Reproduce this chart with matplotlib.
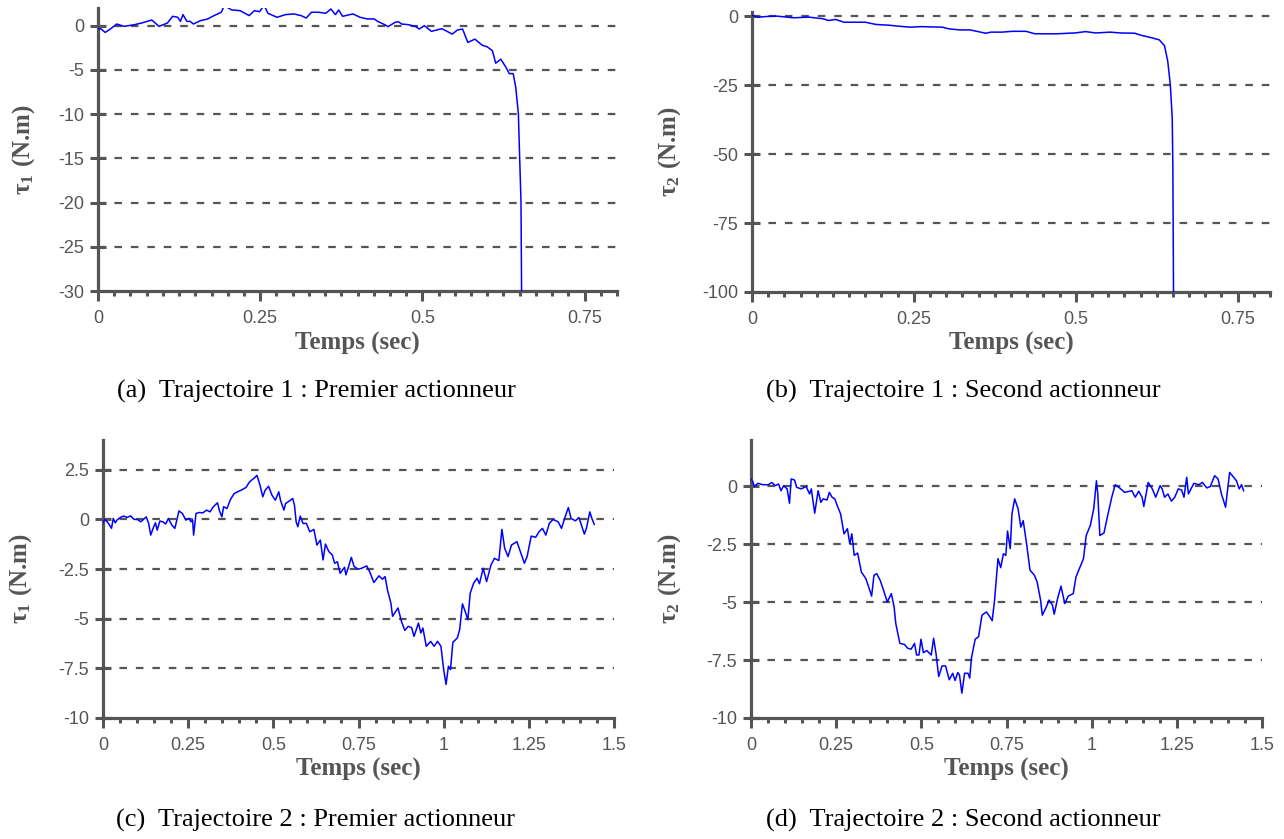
import numpy as np
import matplotlib.pyplot as plt
from matplotlib.ticker import MultipleLocator, FixedLocator, FuncFormatter

plt.rcParams['axes.unicode_minus'] = False
plt.rcParams['mathtext.fontset'] = 'stix'
plt.rcParams['font.family'] = 'Liberation Sans'

GRIS = '#555555'
BLEU = '#0000ff'

# Trajectoire 1, premier actionneur (tau_1)
t_a = [0.000, 0.005, 0.011, 0.019, 0.029, 0.040, 0.056, 0.067, 0.083, 0.094,
       0.107, 0.115, 0.123, 0.127, 0.131, 0.137, 0.142, 0.147, 0.158, 0.169,
       0.179, 0.190, 0.193, 0.195, 0.201, 0.206, 0.219, 0.233, 0.241, 0.249,
       0.253, 0.255, 0.258, 0.262, 0.276, 0.289, 0.302, 0.313, 0.321, 0.329,
       0.340, 0.351, 0.359, 0.366, 0.371, 0.377, 0.393, 0.404, 0.415, 0.426,
       0.431, 0.442, 0.447, 0.458, 0.463, 0.468, 0.479, 0.490, 0.495, 0.503,
       0.514, 0.522, 0.530, 0.538, 0.546, 0.554, 0.562, 0.570, 0.581, 0.592,
       0.600, 0.608, 0.613, 0.621, 0.629, 0.634, 0.640, 0.644, 0.648, 0.650,
       0.652, 0.653]
tau_a = [-0.30, -0.38, -0.76, -0.38, 0.19, -0.08, 0.11, 0.30, 0.64, -0.08,
         0.30, 1.06, 0.95, 0.49, 1.25, 0.49, 0.49, 0.19, 0.57, 0.76,
         1.14, 1.52, 2.00, 2.30, 2.00, 1.78, 1.70, 1.14, 1.70, 1.59,
         2.00, 2.30, 2.00, 1.40, 0.95, 1.25, 1.33, 1.14, 0.87, 1.52,
         1.52, 1.40, 1.89, 1.25, 1.78, 1.06, 1.33, 0.95, 0.76, 0.76,
         0.49, 0.11, -0.11, 0.38, 0.45, 0.19, 0.11, -0.11, -0.38, 0.00,
         -0.64, -0.49, -0.34, -0.64, -0.95, -0.49, -0.38, -1.89, -1.52, -2.20,
         -2.39, -2.84, -4.24, -3.79, -4.73, -5.42, -5.42, -7.01, -10.0, -15.0,
         -19.9, -31.0]

# Trajectoire 1, second actionneur (tau_2)
t_b = [0.000, 0.010, 0.023, 0.039, 0.064, 0.088, 0.110, 0.118, 0.129, 0.142,
       0.175, 0.191, 0.212, 0.234, 0.245, 0.261, 0.294, 0.304, 0.321, 0.337,
       0.361, 0.369, 0.386, 0.402, 0.423, 0.437, 0.456, 0.472, 0.488, 0.499,
       0.515, 0.531, 0.553, 0.569, 0.591, 0.602, 0.615, 0.629, 0.637, 0.642,
       0.646, 0.649, 0.650, 0.651]
tau_b = [0.24, -0.36, -0.12, 0.00, -0.60, -0.36, -0.97, -1.58, -1.20, -2.20,
         -2.20, -3.00, -3.30, -3.80, -4.00, -3.80, -4.00, -4.60, -5.00, -5.00,
         -6.20, -5.80, -5.80, -5.50, -5.50, -6.40, -6.40, -6.40, -6.20, -6.10,
         -5.60, -6.10, -5.80, -6.10, -6.20, -7.00, -7.70, -8.60, -10.7, -16.2,
         -24.7, -36.8, -55.0, -101.0]

# Trajectoire 2, premier actionneur (tau_1)
t_c = [0.000, 0.005, 0.015, 0.025, 0.030, 0.036, 0.041, 0.051, 0.061, 0.071,
       0.081, 0.091, 0.101, 0.111, 0.127, 0.134, 0.140, 0.147, 0.154, 0.159,
       0.167, 0.177, 0.184, 0.192, 0.202, 0.211, 0.223, 0.233, 0.243, 0.253,
       0.258, 0.263, 0.266, 0.273, 0.283, 0.293, 0.304, 0.314, 0.324, 0.336,
       0.342, 0.349, 0.354, 0.364, 0.374, 0.385, 0.395, 0.405, 0.420, 0.430,
       0.445, 0.452, 0.461, 0.469, 0.476, 0.486, 0.496, 0.506, 0.516, 0.521,
       0.531, 0.536, 0.557, 0.562, 0.567, 0.572, 0.579, 0.587, 0.597, 0.607,
       0.619, 0.628, 0.638, 0.646, 0.653, 0.663, 0.673, 0.680, 0.688, 0.696,
       0.709, 0.713, 0.721, 0.729, 0.737, 0.749, 0.759, 0.774, 0.784, 0.795,
       0.810, 0.820, 0.828, 0.835, 0.845, 0.850, 0.866, 0.876, 0.886, 0.896,
       0.906, 0.913, 0.926, 0.933, 0.939, 0.949, 0.962, 0.972, 0.982, 0.992,
       1.000, 1.007, 1.014, 1.020, 1.027, 1.040, 1.047, 1.055, 1.063, 1.071,
       1.078, 1.088, 1.098, 1.105, 1.116, 1.126, 1.139, 1.149, 1.162, 1.171,
       1.179, 1.189, 1.199, 1.215, 1.225, 1.237, 1.245, 1.257, 1.270, 1.280,
       1.290, 1.300, 1.310, 1.321, 1.336, 1.346, 1.356, 1.366, 1.374, 1.387,
       1.397, 1.413, 1.419, 1.429, 1.435, 1.442]
tau_c = [-0.17, 0.00, -0.17, -0.45, 0.05, -0.17, -0.03, 0.10, 0.17, 0.10,
         0.18, 0.00, 0.00, -0.12, 0.13, -0.20, -0.79, -0.45, -0.17, -0.54,
         -0.08, -0.13, -0.23, 0.05, -0.28, -0.45, 0.43, 0.30, -0.03, 0.05,
         -0.12, -0.03, -0.79, 0.30, 0.35, 0.33, 0.47, 0.38, 0.64, 0.84,
         0.43, 0.13, 0.64, 0.55, 1.00, 1.30, 1.39, 1.47, 1.61, 1.89,
         2.10, 2.22, 1.72, 1.14, 1.47, 1.67, 1.22, 0.97, 1.39, 0.97,
         0.47, 0.80, 1.05, 0.72, -0.12, -0.37, 0.17, -0.20, -0.20, -0.62,
         -0.50, -1.29, -1.04, -2.04, -1.24, -1.62, -1.79, -2.21, -2.13, -2.71,
         -2.41, -2.79, -2.37, -1.91, -2.37, -2.51, -2.46, -2.34, -2.68, -3.18,
         -2.84, -3.01, -2.88, -3.55, -4.21, -4.88, -4.46, -5.13, -5.59, -5.38,
         -5.46, -5.89, -5.22, -5.72, -5.47, -6.39, -6.14, -6.39, -6.14, -6.39,
         -7.56, -8.31, -7.39, -7.56, -6.19, -5.97, -5.55, -4.25, -4.63, -5.05,
         -3.71, -3.21, -2.96, -3.24, -2.46, -3.13, -2.29, -1.96, -2.07, -0.50,
         -1.45, -1.87, -1.29, -1.12, -1.62, -2.21, -1.87, -0.84, -0.90, -0.62,
         -0.45, -0.79, -0.20, 0.00, -0.12, -0.45, 0.10, 0.60, 0.05, -0.07,
         0.10, -0.74, -0.45, 0.38, 0.05, -0.25]

# Trajectoire 2, second actionneur (tau_2)
t_d = [0.000, 0.005, 0.010, 0.020, 0.035, 0.051, 0.061, 0.071, 0.081, 0.088,
       0.096, 0.106, 0.113, 0.118, 0.128, 0.134, 0.147, 0.162, 0.172, 0.177,
       0.187, 0.197, 0.205, 0.212, 0.223, 0.230, 0.238, 0.246, 0.253, 0.263,
       0.273, 0.283, 0.290, 0.296, 0.303, 0.313, 0.324, 0.337, 0.347, 0.354,
       0.361, 0.369, 0.379, 0.389, 0.400, 0.412, 0.420, 0.425, 0.437, 0.450,
       0.460, 0.470, 0.480, 0.486, 0.493, 0.499, 0.506, 0.516, 0.529, 0.536,
       0.543, 0.551, 0.561, 0.571, 0.582, 0.592, 0.599, 0.607, 0.612, 0.619,
       0.627, 0.637, 0.642, 0.647, 0.658, 0.668, 0.678, 0.691, 0.701, 0.708,
       0.715, 0.725, 0.733, 0.741, 0.748, 0.753, 0.761, 0.766, 0.774, 0.784,
       0.792, 0.799, 0.809, 0.819, 0.832, 0.840, 0.850, 0.855, 0.865, 0.875,
       0.885, 0.890, 0.900, 0.910, 0.921, 0.931, 0.946, 0.954, 0.966, 0.976,
       0.984, 0.996, 1.006, 1.014, 1.018, 1.024, 1.036, 1.047, 1.059, 1.069,
       1.082, 1.097, 1.118, 1.128, 1.138, 1.148, 1.153, 1.166, 1.178, 1.188,
       1.201, 1.207, 1.214, 1.224, 1.234, 1.244, 1.254, 1.264, 1.271, 1.279,
       1.284, 1.300, 1.315, 1.325, 1.338, 1.348, 1.361, 1.371, 1.381, 1.393,
       1.405, 1.413, 1.425, 1.433, 1.440, 1.446]
tau_d = [0.32, 0.22, -0.01, 0.13, 0.07, 0.07, 0.17, 0.03, 0.10, -0.19,
         0.03, -0.11, -0.73, 0.32, 0.27, -0.04, -0.11, -0.01, -0.33, -0.11,
         -1.16, -0.19, -0.69, -0.54, -0.59, -0.26, -0.47, -0.54, -0.83, -1.19,
         -2.05, -1.83, -2.48, -2.05, -2.98, -2.88, -3.70, -3.98, -4.41, -4.74,
         -3.84, -3.77, -4.05, -4.48, -4.99, -4.63, -5.20, -5.92, -6.78, -6.82,
         -6.99, -7.03, -6.78, -7.28, -7.28, -6.60, -7.18, -7.09, -7.28, -6.56,
         -7.21, -8.21, -7.75, -7.75, -8.35, -8.07, -8.38, -8.04, -8.14, -8.93,
         -8.07, -8.07, -8.28, -7.42, -6.60, -6.49, -5.56, -5.42, -5.63, -5.80,
         -4.91, -3.12, -3.51, -2.91, -2.98, -1.93, -2.69, -1.19, -0.54, -0.97,
         -1.76, -1.48, -2.48, -3.62, -3.84, -4.13, -4.91, -5.56, -5.27, -4.91,
         -5.13, -5.52, -4.84, -4.31, -5.06, -4.74, -4.63, -3.91, -3.48, -3.12,
         -2.12, -1.69, -0.97, 0.24, -0.33, -2.12, -2.02, -1.26, -0.47, 0.07,
         -0.07, -0.26, -0.19, -0.47, -0.21, -0.47, -0.87, 0.17, -0.11, -0.47,
         0.03, -0.11, -0.47, -0.33, -0.64, -0.47, -0.11, -0.16, -0.47, 0.39,
         -0.33, 0.13, 0.07, 0.17, -0.07, -0.01, 0.46, 0.32, -0.33, -0.90,
         0.60, 0.46, 0.24, -0.11, 0.07, -0.19]

legendes = ['(a)  Trajectoire 1 : Premier actionneur',
            '(b)  Trajectoire 1 : Second actionneur',
            '(c)  Trajectoire 2 : Premier actionneur',
            '(d)  Trajectoire 2 : Second actionneur']

fmt = FuncFormatter(lambda v, p: f'{v:g}')


def panneau(ax, t, tau, xlim, ylim, xt, xmin, yt, ylab, ylab_x):
    for v in yt:
        if v > ylim[0]:
            ax.axhline(v, color=GRIS, lw=1.6, ls=(0, (3.4, 4.0)), zorder=1)
    ax.plot(t, tau, color=BLEU, lw=1.1, zorder=3)
    ax.set_xlim(*xlim)
    ax.set_ylim(*ylim)
    ax.xaxis.set_major_locator(FixedLocator(xt))
    ax.xaxis.set_minor_locator(MultipleLocator(xmin))
    ax.yaxis.set_major_locator(FixedLocator(yt))
    ax.xaxis.set_major_formatter(fmt)
    ax.yaxis.set_major_formatter(fmt)
    for s in ['top', 'right']:
        ax.spines[s].set_visible(False)
    for s in ['left', 'bottom']:
        ax.spines[s].set_color(GRIS)
        ax.spines[s].set_linewidth(2.3)
    ax.tick_params(axis='x', which='major', direction='out', length=7,
                   width=2.2, colors=GRIS, labelsize=13, pad=7)
    ax.tick_params(axis='x', which='minor', direction='out', length=3.5,
                   width=2.2, colors=GRIS)
    ax.tick_params(axis='y', which='major', direction='inout', length=12,
                   width=2.2, colors=GRIS, labelsize=13, pad=4)
    ax.set_xlabel('Temps (sec)', family='Liberation Serif', weight='bold',
                  fontsize=18, color=GRIS)
    ax.xaxis.set_label_coords(0.5, -0.185)
    ax.xaxis.label.set_va('center')
    ax.set_ylabel(ylab, family='Liberation Serif', weight='bold',
                  fontsize=18, color=GRIS)
    ax.yaxis.set_label_coords(ylab_x, 0.5)
    ax.yaxis.label.set_va('center')


fig = plt.figure(figsize=(12.84, 8.39), dpi=100)
W, H = 1284, 839
boites = [(98, 617, 8, 291), (752, 1270, 12, 292),
          (103, 614, 440, 718), (751, 1262, 440, 718)]
axes = []
for x0, x1, y0, y1 in boites:
    axes.append(fig.add_axes([x0 / W, 1 - y1 / H, (x1 - x0) / W, (y1 - y0) / H]))

panneau(axes[0], t_a, tau_a, (0, 0.8), (-30, 2), [0, 0.25, 0.5, 0.75], 0.025,
        [0, -5, -10, -15, -20, -25, -30], r'τ$_{\mathregular{1}}$ (N.m)', -0.143)
panneau(axes[1], t_b, tau_b, (0, 0.8), (-100, 1.5), [0, 0.25, 0.5, 0.75], 0.025,
        [0, -25, -50, -75, -100], r'τ$_{\mathregular{2}}$ (N.m)', -0.160)
panneau(axes[2], t_c, tau_c, (0, 1.5), (-10, 4), [0, 0.25, 0.5, 0.75, 1, 1.25, 1.5], 0.05,
        [2.5, 0, -2.5, -5, -7.5, -10], r'τ$_{\mathregular{1}}$ (N.m)', -0.162)
panneau(axes[3], t_d, tau_d, (0, 1.5), (-10, 2), [0, 0.25, 0.5, 0.75, 1, 1.25, 1.5], 0.05,
        [0, -2.5, -5, -7.5, -10], r'τ$_{\mathregular{2}}$ (N.m)', -0.160)

for (xc, yc), txt in zip([(316, 391), (963, 391), (316, 820), (963, 820)], legendes):
    fig.text(xc / W, 1 - yc / H, txt, ha='center', va='center',
             family='Liberation Serif', fontsize=19, color='black')

fig.savefig('out.png', dpi=100)
